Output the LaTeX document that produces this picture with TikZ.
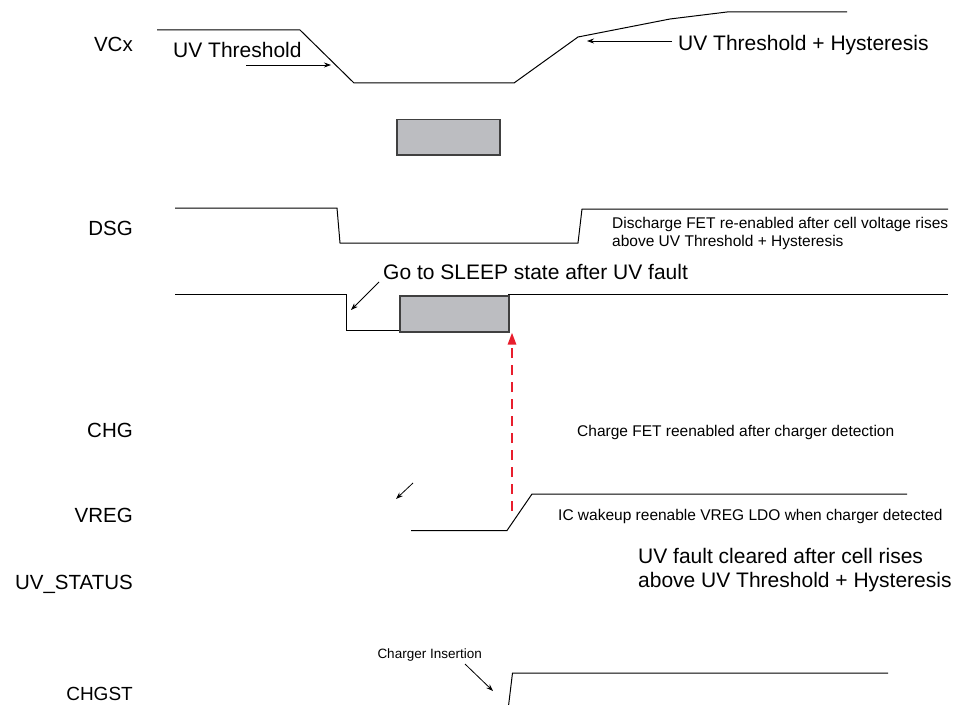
\documentclass[tikz,border=0pt]{standalone}
\usepackage{fontspec}
\setmainfont{Liberation Sans}
\usetikzlibrary{arrows.meta}
\definecolor{boxgray}{RGB}{188,189,193}
\definecolor{dashred}{RGB}{232,30,45}
\tikzset{
  wave/.style={draw=black, line width=1bp, line join=miter},
  big/.style={font=\fontsize{21bp}{25bp}\selectfont, inner sep=0pt},
  small/.style={font=\fontsize{15.5bp}{18bp}\selectfont, inner sep=0pt},
  sig/.style={font=\fontsize{20.5bp}{24bp}\selectfont, inner sep=0pt, anchor=base east},
  ann/.style={draw=black, line width=0.8bp, -{Stealth[length=7bp,width=5bp]}},
  graybox/.style={draw=black!75, line width=1.5bp, fill=boxgray},
  reddash/.style={draw=dashred, line width=2.5bp, dash pattern=on 10bp off 7bp, -{Triangle[length=12bp,width=8bp]}}
}
\begin{document}
\begin{tikzpicture}[x=1bp,y=-1bp]
\useasboundingbox (0,0) rectangle (960,705);
% signal names
\node[sig] (lVCx) at (133,52) {VCx};
\node[sig] (lDSG) at (133,235.5) {DSG};
\node[sig] (lCHG) at (133,437.5) {CHG};
\node[sig] (lVREG) at (133,522.5) {VREG};
\node[sig] (lUV) at (133,589.5) {UV\_STATUS};
\node[sig, font=\fontsize{19bp}{22bp}\selectfont] (lCHGST) at (133,700) {CHGST};
% VCx waveform
\draw[wave] (157,30) -- (300,30) -- (354,83) -- (514,83) -- (578,37) -- (670,19) -- (727,12) -- (847,12);
\node[big, anchor=base west] (tUV) at (173,58) {UV Threshold};
\coordinate (uvA) at (246,65);
\coordinate (uvB) at (331,65);
\draw[ann] (uvA) -- (uvB);
\node[big, anchor=base west] (tUVH) at (678,50.5) {UV Threshold + Hysteresis};
\coordinate (uhA) at (672,41);
\coordinate (uhB) at (587,41);
\draw[ann] (uhA) -- (uhB);
% gray box under VCx
\node[graybox, minimum width=103bp, minimum height=35bp, anchor=north west, inner sep=0pt] (box1) at (396,119) {};
% DSG waveform
\draw[wave] (175,208) -- (337,208) -- (340,243) -- (578,243) -- (582,209) -- (948,209);
\node[small, anchor=base west] (tD1) at (612,228) {Discharge FET re-enabled after cell voltage rises};
\node[small, anchor=base west] (tD2) at (612,246) {above UV Threshold + Hysteresis};
% sleep waveform
\draw[wave] (175,294) -- (346,294) -- (346,330.5) -- (399,330.5);
\draw[wave] (508,294) -- (948,294);
\node[graybox, minimum width=109bp, minimum height=36bp, anchor=north west, inner sep=0pt] (box2) at (399,295) {};
\node[big, anchor=base west] (tSleep) at (383,279.5) {Go to SLEEP state after UV fault};
\coordinate (slA) at (379,282);
\coordinate (slB) at (351,310);
\draw[ann] (slA) -- (slB);
% red dashed arrow
\coordinate (rdA) at (512,511);
\draw[reddash] (rdA) -- (box2.south east -| rdA);
% CHG text
\node[small, anchor=base west] (tCHG) at (577,436.5) {Charge FET reenabled after charger detection};
% VREG
\coordinate (vrA) at (413,483);
\coordinate (vrB) at (396,499);
\draw[ann] (vrA) -- (vrB);
\draw[wave] (411,530.5) -- (507,530.5) -- (532,494) -- (907,494);
\node[small, anchor=base west] (tIC) at (558,520.5) {IC wakeup reenable VREG LDO when charger detected};
% UV fault cleared
\node[big, anchor=base west] (tF1) at (638,563.5) {UV fault cleared after cell rises};
\node[big, anchor=base west] (tF2) at (638,587.5) {above UV Threshold + Hysteresis};
% CHGST
\draw[wave] (508.5,706) -- (512.5,673) -- (888,673);
\node[small, font=\fontsize{13.5bp}{16bp}\selectfont, anchor=base east] (tIns) at (482,658) {Charger Insertion};
\coordinate (inA) at (465,664);
\coordinate (inB) at (493,691);
\draw[ann] (inA) -- (inB);
\end{tikzpicture}
\end{document}
